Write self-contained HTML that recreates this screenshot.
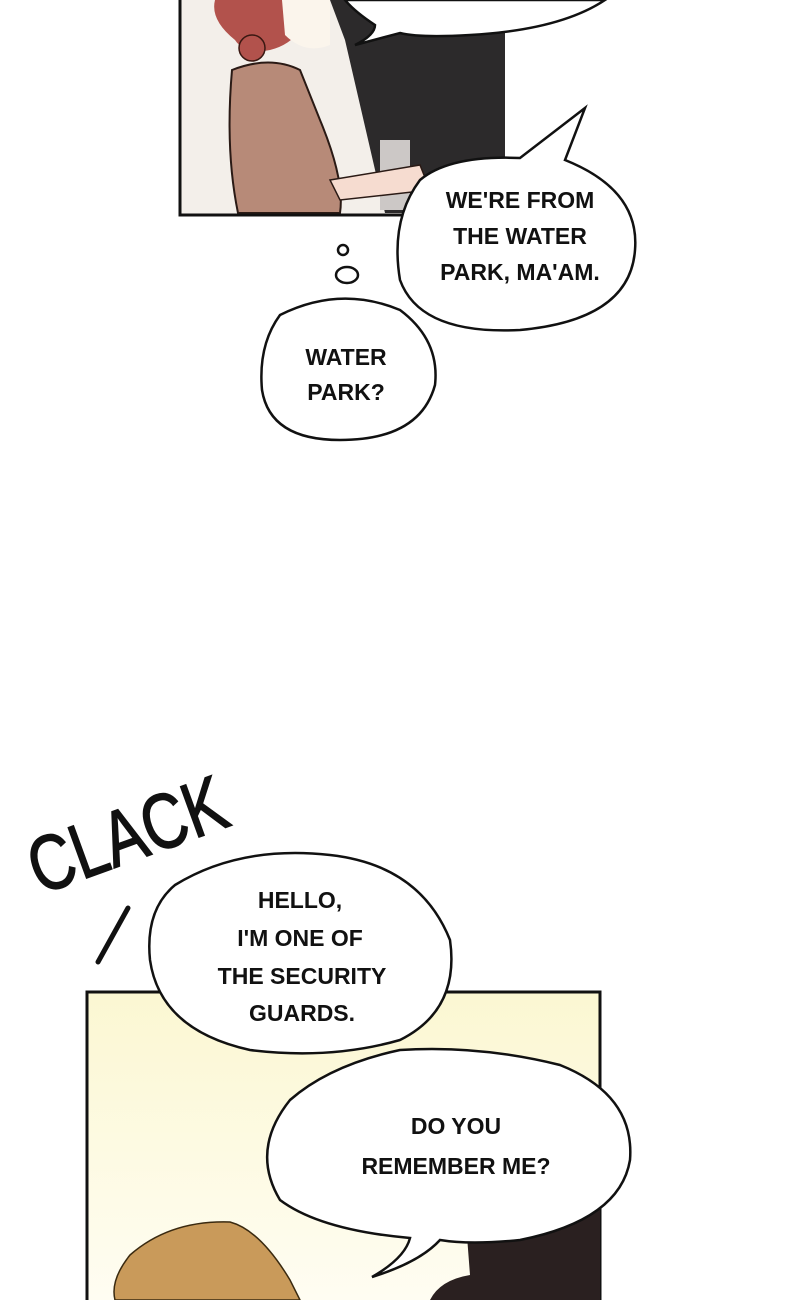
<!DOCTYPE html>
<html><head><style>body{margin:0;background:#fff}svg{display:block}</style></head><body>
<svg width="800" height="1300" viewBox="0 0 800 1300" xmlns="http://www.w3.org/2000/svg">
<defs><linearGradient id="g" x1="0" y1="0" x2="0" y2="1"><stop offset="0" stop-color="#fbf7d2"/><stop offset="1" stop-color="#fffdf2"/></linearGradient></defs>
<!-- top panel -->
<rect x="180" y="0" width="325" height="215" fill="#f3efea"/>
<polygon points="330,0 505,0 505,213 385,213 345,40" fill="#2c2a2b"/>
<rect x="380" y="140" width="30" height="70" fill="#ccc8c6"/>
<path d="M232,70 Q270,55 300,70 L320,120 Q345,180 340,213 L238,213 Q225,150 232,70Z" fill="#b78a78" stroke="#2a1a15" stroke-width="2"/>
<path d="M330,180 L420,165 L430,190 L340,200Z" fill="#f6dcd0" stroke="#2a1a15" stroke-width="1.5"/>
<path d="M215,0 L300,0 L300,30 Q290,45 270,50 Q245,55 235,40 Q210,20 215,0Z" fill="#b2524c"/>
<circle cx="252" cy="48" r="13" fill="#b2524c" stroke="#3a1812" stroke-width="1.5"/>
<path d="M282,0 L330,0 L330,45 Q305,55 285,35Z" fill="#fbf5ec"/>
<path d="M180,0 V215 H505" fill="none" stroke="#111" stroke-width="3"/>
<!-- top right bubble -->
<path d="M345,0 L605,0 Q560,30 470,35 Q420,38 400,33 L355,45 Q375,35 375,25 Q355,12 345,0Z" fill="#fff" stroke="#111" stroke-width="2.5"/>
<!-- bubbles -->
<g fill="#fff" stroke="#111" stroke-width="2.5">
<path d="M420,180 Q450,155 520,158 L585,108 L565,160 Q640,190 635,250 Q630,320 520,330 Q420,335 400,280 Q390,220 420,180Z"/>
<ellipse cx="343" cy="250" rx="5" ry="5"/>
<ellipse cx="347" cy="275" rx="11" ry="8"/>
<path d="M280,315 Q340,285 400,310 Q440,340 435,385 Q420,440 340,440 Q270,440 262,390 Q258,345 280,315Z"/>
</g>
<!-- bottom panel -->
<rect x="87" y="992" width="513" height="308" fill="url(#g)"/>
<path d="M87,1300 V992 H600 V1300" fill="none" stroke="#111" stroke-width="3"/>
<path d="M130,1255 Q170,1220 230,1222 Q260,1230 290,1280 L300,1300 L115,1300 Q110,1280 130,1255Z" fill="#c99a5a" stroke="#3a2a10" stroke-width="1.5"/>
<path d="M465,1210 L600,1190 L600,1300 L430,1300 Q440,1280 470,1275Z" fill="#2a2020"/>
<g fill="#fff" stroke="#111" stroke-width="2.5">
<path d="M400,1050 Q480,1045 560,1065 Q635,1095 630,1160 Q620,1220 520,1240 Q470,1245 440,1240 Q420,1262 372,1277 Q405,1258 410,1238 Q320,1230 280,1200 Q250,1150 290,1100 Q330,1065 400,1050Z"/>
<path d="M175,885 Q240,845 330,855 Q420,865 450,940 Q460,1010 400,1040 Q330,1060 250,1050 Q160,1030 150,960 Q145,910 175,885Z"/>
</g>
<g font-family="Liberation Sans, sans-serif" font-size="23" font-weight="bold" fill="#111" text-anchor="middle">
<text x="520" y="208">WE'RE FROM</text><text x="520" y="244">THE WATER</text><text x="520" y="280">PARK, MA'AM.</text>
<text x="346" y="365">WATER</text><text x="346" y="400">PARK?</text>
<text x="300" y="908">HELLO,</text><text x="300" y="946">I'M ONE OF</text><text x="302" y="984">THE SECURITY</text><text x="302" y="1021">GUARDS.</text>
<text x="456" y="1134">DO YOU</text><text x="456" y="1174">REMEMBER ME?</text>
</g>
<text x="40" y="895" transform="rotate(-20 40 895)" font-family="Liberation Sans, sans-serif" font-size="78" fill="#111" stroke="#111" stroke-width="1.5" textLength="205" lengthAdjust="spacingAndGlyphs">CLACK</text>
<path d="M128,908 L98,962" stroke="#111" stroke-width="5" stroke-linecap="round"/>
</svg>
</body></html>
